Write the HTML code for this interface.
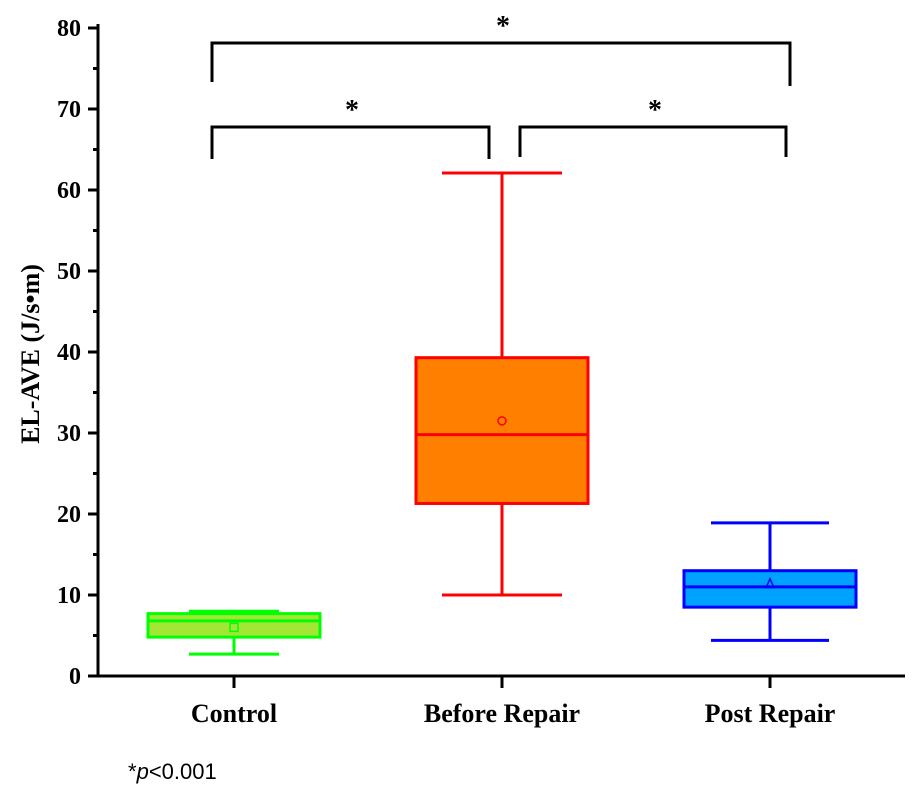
<!DOCTYPE html>
<html><head><meta charset="utf-8"><style>
body{margin:0;background:#fff}
svg text{font-family:"Liberation Serif",serif;font-weight:bold;fill:#000}
</style></head><body>
<svg id="c" width="915" height="792"></svg>
<script>
const categories=["Control","Before Repair","Post Repair"];
const mins=[2.7,10,4.4];
const q1s=[4.8,21.3,8.5];
const medians=[6.8,29.8,11.0];
const q3s=[7.7,39.3,13.0];
const maxs=[8.0,62.1,18.9];
const means=[6.0,31.5,11.4];
const yTicks=[0,10,20,30,40,50,60,70,80];
const strokes=["#00ff00","#ff0000","#0000ff"];
const fills=["#a3e635","#ff8000","#00a2ff"];
const capHalf=[45,60,59];
const svg=document.getElementById('c');
const NS="http://www.w3.org/2000/svg";
const y=v=>676-v*8.1;
const x=i=>234+i*268;
function el(t,a,p){const e=document.createElementNS(NS,t);for(const k in a)e.setAttribute(k,a[k]);(p||svg).appendChild(e);return e;}
let ax=el('line',{x1:98,y1:24,x2:98,y2:677,stroke:'#000','stroke-width':3});

let xa=el('line',{x1:96,y1:676,x2:905,y2:676,stroke:'#000','stroke-width':3});

yTicks.forEach((t,i)=>{
 let l=el('line',{x1:88,y1:y(t),x2:98,y2:y(t),stroke:'#000','stroke-width':3});
 
 if(i<yTicks.length-1){let m=el('line',{x1:93,y1:y(t+5),x2:98,y2:y(t+5),stroke:'#000','stroke-width':3});
 }
 let tx=el('text',{x:81,y:y(t)+8,'text-anchor':'end','font-size':24});tx.textContent=t;
 
});
categories.forEach((c,i)=>{
 const cx=x(i);
 let tk=el('line',{x1:cx,y1:676,x2:cx,y2:688,stroke:'#000','stroke-width':3});
 
 let t=el('text',{x:cx,y:722,'text-anchor':'middle','font-size':26});t.textContent=c;
 
 const g=el('g',{});
 
 
 const s=strokes[i],h=capHalf[i];
 el('line',{x1:cx,y1:y(maxs[i]),x2:cx,y2:y(q3s[i]),stroke:s,'stroke-width':3},g);
 el('line',{x1:cx,y1:y(mins[i]),x2:cx,y2:y(q1s[i]),stroke:s,'stroke-width':3},g);
 el('line',{x1:cx-h,y1:y(maxs[i]),x2:cx+h,y2:y(maxs[i]),stroke:s,'stroke-width':3},g);
 el('line',{x1:cx-h,y1:y(mins[i]),x2:cx+h,y2:y(mins[i]),stroke:s,'stroke-width':3},g);
 el('rect',{x:cx-86,y:y(q3s[i]),width:172,height:y(q1s[i])-y(q3s[i]),fill:fills[i],stroke:s,'stroke-width':3},g);
 el('line',{x1:cx-86,y1:y(medians[i]),x2:cx+86,y2:y(medians[i]),stroke:s,'stroke-width':3},g);
 if(i==0)el('rect',{x:cx-4,y:y(means[i])-4,width:8,height:8,fill:'none',stroke:s,'stroke-width':1.5},g);
 else if(i==1)el('circle',{cx:cx,cy:y(means[i]),r:4,fill:'none',stroke:s,'stroke-width':1.5},g);
 else el('path',{d:`M${cx-4} ${y(means[i])+4}L${cx} ${y(means[i])-5}L${cx+4} ${y(means[i])+4}Z`,fill:'none',stroke:s,'stroke-width':1.5},g);
});
function bracket(x1,x2,yy,d1,d2,sx){
 let p=el('path',{d:`M${x1} ${d1}V${yy}H${x2}V${d2}`,fill:'none',stroke:'#000','stroke-width':3});
 
 let t=el('text',{x:sx,y:yy-8,'text-anchor':'middle','font-size':28});t.textContent='*';
 
}
bracket(212,790,43,82,86,503);
bracket(212,489,127,159,159,352);
bracket(520,786,127,157,157,655);
let yl=el('text',{x:0,y:0,'text-anchor':'middle','font-size':26,transform:'translate(39,354) rotate(-90)'});
yl.textContent='EL-AVE (J/s•m)';

let fn=el('text',{x:128,y:779,'font-size':22,style:'font-family:"Liberation Sans",sans-serif;font-weight:normal'});
fn.innerHTML='*<tspan font-style="italic">p</tspan>&lt;0.001';

</script>
</body></html>
